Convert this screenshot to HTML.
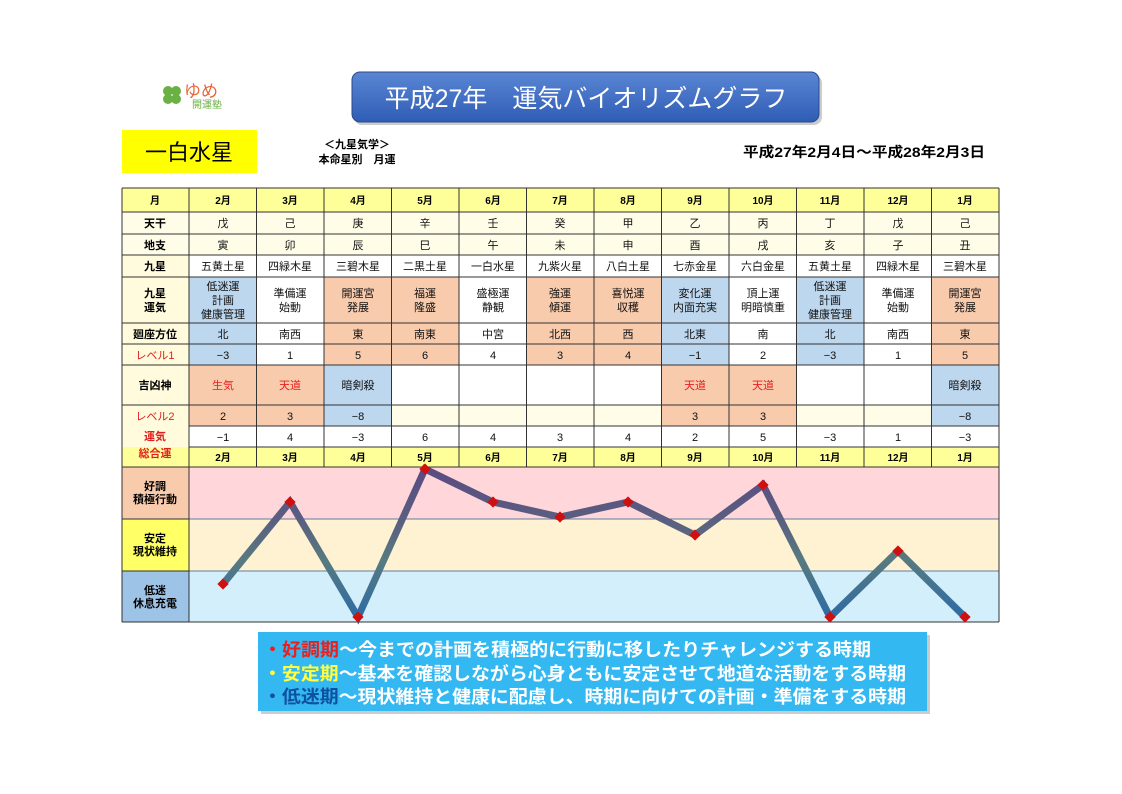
<!DOCTYPE html>
<html><head><meta charset="utf-8"><style>
html,body{margin:0;padding:0;background:#fff}
svg{display:block}
text{font-family:"Liberation Sans","Noto Sans CJK JP",sans-serif}
</style></head><body>
<svg width="1122" height="794" viewBox="0 0 1122 794" xmlns="http://www.w3.org/2000/svg">
<defs>
<linearGradient id="tg" x1="0" y1="0" x2="0" y2="1"><stop offset="0" stop-color="#5a86d4"/><stop offset="1" stop-color="#2f5db5"/></linearGradient>
<linearGradient id="lg" gradientUnits="userSpaceOnUse" x1="0" y1="467" x2="0" y2="622"><stop offset="0" stop-color="#5b4a82"/><stop offset="0.35" stop-color="#5a5f80"/><stop offset="0.6" stop-color="#577a80"/><stop offset="1" stop-color="#2a6aa8"/></linearGradient>
</defs>
<!-- logo -->
<g transform="translate(172,96)">
<circle cx="-4" cy="-5" r="5" fill="#6ab043"/><circle cx="4" cy="-5" r="5" fill="#6ab043"/><circle cx="-4" cy="3" r="5" fill="#6ab043"/><circle cx="4" cy="3" r="5" fill="#6ab043"/>
</g>
<text x="184" y="97" font-size="17" fill="#e8663a">ゆめ</text>
<text x="192" y="108" font-size="10" fill="#6ab043">開運塾</text>
<!-- title -->
<rect x="354" y="75" width="468" height="50" rx="8" fill="#999" opacity="0.5"/>
<rect x="352" y="72" width="467" height="50" rx="8" fill="url(#tg)" stroke="#2a4a8a" stroke-width="1"/>
<text x="586" y="107" font-size="25" fill="#fff" text-anchor="middle">平成27年　運気バイオリズムグラフ</text>
<!-- star box -->
<rect x="122" y="130" width="135" height="43" fill="#ffff00"/>
<text x="189" y="160" font-size="22" text-anchor="middle" fill="#000">一白水星</text>
<text x="357" y="148" font-size="11" font-weight="bold" text-anchor="middle">＜九星気学＞</text>
<text x="357" y="163" font-size="11" font-weight="bold" text-anchor="middle">本命星別　月運</text>
<text x="864" y="157" font-size="14" font-weight="bold" text-anchor="middle" textLength="242" lengthAdjust="spacingAndGlyphs">平成27年2月4日～平成28年2月3日</text>

<!-- table backgrounds -->
<rect x="122" y="188" width="877" height="24" fill="#ffff99"/>
<rect x="122" y="212" width="877" height="43" fill="#fffde8"/>
<rect x="122" y="255" width="877" height="192" fill="#fff"/>
<rect x="122" y="255" width="67" height="192" fill="#fffbdc"/>
<rect x="122" y="447" width="877" height="20" fill="#ffff99"/>
<g fill="#bdd7ee">
<rect x="189" y="277" width="67.5" height="88"/><rect x="661.5" y="277" width="67.5" height="88"/><rect x="796.5" y="277" width="67.5" height="88"/>
<rect x="324" y="365" width="67.5" height="61"/><rect x="931.5" y="365" width="67.5" height="61"/>
</g>
<g fill="#f8cbad">
<rect x="324" y="277" width="135" height="88"/><rect x="526.5" y="277" width="135" height="88"/><rect x="931.5" y="277" width="67.5" height="88"/>
<rect x="189" y="365" width="135" height="61"/><rect x="661.5" y="365" width="135" height="61"/>
</g>
<g fill="#fffde8">
<rect x="391.5" y="405" width="270" height="21"/><rect x="796.5" y="405" width="135" height="21"/>
</g>
<!-- chart -->
<rect x="122" y="467" width="67" height="52" fill="#f8cbad"/>
<rect x="122" y="519" width="67" height="52" fill="#ffff66"/>
<rect x="122" y="571" width="67" height="51" fill="#9dc3e6"/>
<rect x="189" y="467" width="810" height="52" fill="#ffd7da"/>
<rect x="189" y="519" width="810" height="52" fill="#fff2d2"/>
<rect x="189" y="571" width="810" height="51" fill="#d2effb"/>
<line x1="189" y1="519" x2="999" y2="519" stroke="#5d7d9d" stroke-width="1"/>
<line x1="189" y1="571" x2="999" y2="571" stroke="#5d7d9d" stroke-width="1"/>
<line x1="122" y1="519" x2="189" y2="519" stroke="#333" stroke-width="1"/>
<line x1="122" y1="571" x2="189" y2="571" stroke="#333" stroke-width="1"/>
<!-- grid -->
<g stroke="#333" stroke-width="1">
<line x1="122" y1="188" x2="999" y2="188"/><line x1="122" y1="212" x2="999" y2="212"/><line x1="122" y1="234" x2="999" y2="234"/><line x1="122" y1="255" x2="999" y2="255"/><line x1="122" y1="277" x2="999" y2="277"/><line x1="122" y1="323" x2="999" y2="323"/><line x1="122" y1="344" x2="999" y2="344"/><line x1="122" y1="365" x2="999" y2="365"/><line x1="122" y1="405" x2="999" y2="405"/><line x1="189" y1="426" x2="999" y2="426"/><line x1="189" y1="447" x2="999" y2="447"/><line x1="122" y1="467" x2="999" y2="467"/><line x1="122" y1="622" x2="999" y2="622"/>
<line x1="122" y1="188" x2="122" y2="622"/><line x1="189" y1="188" x2="189" y2="622"/><line x1="999" y1="188" x2="999" y2="622"/>
<line x1="256.5" y1="188" x2="256.5" y2="467"/><line x1="324" y1="188" x2="324" y2="467"/><line x1="391.5" y1="188" x2="391.5" y2="467"/><line x1="459" y1="188" x2="459" y2="467"/><line x1="526.5" y1="188" x2="526.5" y2="467"/><line x1="594" y1="188" x2="594" y2="467"/><line x1="661.5" y1="188" x2="661.5" y2="467"/><line x1="729" y1="188" x2="729" y2="467"/><line x1="796.5" y1="188" x2="796.5" y2="467"/><line x1="864" y1="188" x2="864" y2="467"/><line x1="931.5" y1="188" x2="931.5" y2="467"/>
</g>
<!-- label column -->
<g font-size="11" font-weight="bold" text-anchor="middle" fill="#000">
<text x="155" y="204" font-size="10">月</text>
<text x="155" y="227">天干</text>
<text x="155" y="249">地支</text>
<text x="155" y="270">九星</text>
<text x="155" y="297">九星</text><text x="155" y="311">運気</text>
<text x="155" y="338">廻座方位</text>
<text x="155" y="359" fill="#e02020" font-weight="normal">レベル1</text>
<text x="155" y="389">吉凶神</text>
<text x="155" y="420" fill="#e02020" font-weight="normal">レベル2</text>
<text x="155" y="440" fill="#e02020">運気</text><text x="155" y="457" fill="#e02020">総合運</text>
<text x="155" y="490">好調</text><text x="155" y="503">積極行動</text>
<text x="155" y="542">安定</text><text x="155" y="555">現状維持</text>
<text x="155" y="594">低迷</text><text x="155" y="607">休息充電</text>
</g>
<!-- month headers -->
<g font-size="10" font-weight="bold" text-anchor="middle">
<text x="223" y="204">2月</text><text x="290" y="204">3月</text><text x="358" y="204">4月</text><text x="425" y="204">5月</text><text x="493" y="204">6月</text><text x="560" y="204">7月</text><text x="628" y="204">8月</text><text x="695" y="204">9月</text><text x="763" y="204">10月</text><text x="830" y="204">11月</text><text x="898" y="204">12月</text><text x="965" y="204">1月</text>
<text x="223" y="461">2月</text><text x="290" y="461">3月</text><text x="358" y="461">4月</text><text x="425" y="461">5月</text><text x="493" y="461">6月</text><text x="560" y="461">7月</text><text x="628" y="461">8月</text><text x="695" y="461">9月</text><text x="763" y="461">10月</text><text x="830" y="461">11月</text><text x="898" y="461">12月</text><text x="965" y="461">1月</text>
</g>
<g font-size="11" text-anchor="middle" fill="#111">
<text x="223" y="227">戊</text><text x="290" y="227">己</text><text x="358" y="227">庚</text><text x="425" y="227">辛</text><text x="493" y="227">壬</text><text x="560" y="227">癸</text><text x="628" y="227">甲</text><text x="695" y="227">乙</text><text x="763" y="227">丙</text><text x="830" y="227">丁</text><text x="898" y="227">戊</text><text x="965" y="227">己</text>
<text x="223" y="249">寅</text><text x="290" y="249">卯</text><text x="358" y="249">辰</text><text x="425" y="249">巳</text><text x="493" y="249">午</text><text x="560" y="249">未</text><text x="628" y="249">申</text><text x="695" y="249">酉</text><text x="763" y="249">戌</text><text x="830" y="249">亥</text><text x="898" y="249">子</text><text x="965" y="249">丑</text>
<text x="223" y="270">五黄土星</text><text x="290" y="270">四緑木星</text><text x="358" y="270">三碧木星</text><text x="425" y="270">二黒土星</text><text x="493" y="270">一白水星</text><text x="560" y="270">九紫火星</text><text x="628" y="270">八白土星</text><text x="695" y="270">七赤金星</text><text x="763" y="270">六白金星</text><text x="830" y="270">五黄土星</text><text x="898" y="270">四緑木星</text><text x="965" y="270">三碧木星</text>
<text x="223" y="290">低迷運</text><text x="223" y="304">計画</text><text x="223" y="318">健康管理</text>
<text x="290" y="297">準備運</text><text x="290" y="311">始動</text>
<text x="358" y="297">開運宮</text><text x="358" y="311">発展</text>
<text x="425" y="297">福運</text><text x="425" y="311">隆盛</text>
<text x="493" y="297">盛極運</text><text x="493" y="311">静観</text>
<text x="560" y="297">強運</text><text x="560" y="311">傾運</text>
<text x="628" y="297">喜悦運</text><text x="628" y="311">収穫</text>
<text x="695" y="297">変化運</text><text x="695" y="311">内面充実</text>
<text x="763" y="297">頂上運</text><text x="763" y="311">明暗慎重</text>
<text x="830" y="290">低迷運</text><text x="830" y="304">計画</text><text x="830" y="318">健康管理</text>
<text x="898" y="297">準備運</text><text x="898" y="311">始動</text>
<text x="965" y="297">開運宮</text><text x="965" y="311">発展</text>
<text x="223" y="338">北</text><text x="290" y="338">南西</text><text x="358" y="338">東</text><text x="425" y="338">南東</text><text x="493" y="338">中宮</text><text x="560" y="338">北西</text><text x="628" y="338">西</text><text x="695" y="338">北東</text><text x="763" y="338">南</text><text x="830" y="338">北</text><text x="898" y="338">南西</text><text x="965" y="338">東</text>
<text x="223" y="359">−3</text><text x="290" y="359">1</text><text x="358" y="359">5</text><text x="425" y="359">6</text><text x="493" y="359">4</text><text x="560" y="359">3</text><text x="628" y="359">4</text><text x="695" y="359">−1</text><text x="763" y="359">2</text><text x="830" y="359">−3</text><text x="898" y="359">1</text><text x="965" y="359">5</text>
<text x="223" y="389" fill="#e82020">生気</text><text x="290" y="389" fill="#e82020">天道</text><text x="358" y="389">暗剣殺</text><text x="695" y="389" fill="#e82020">天道</text><text x="763" y="389" fill="#e82020">天道</text><text x="965" y="389">暗剣殺</text>
<text x="223" y="420">2</text><text x="290" y="420">3</text><text x="358" y="420">−8</text><text x="695" y="420">3</text><text x="763" y="420">3</text><text x="965" y="420">−8</text>
<text x="223" y="441">−1</text><text x="290" y="441">4</text><text x="358" y="441">−3</text><text x="425" y="441">6</text><text x="493" y="441">4</text><text x="560" y="441">3</text><text x="628" y="441">4</text><text x="695" y="441">2</text><text x="763" y="441">5</text><text x="830" y="441">−3</text><text x="898" y="441">1</text><text x="965" y="441">−3</text>
</g>
<!-- line -->
<polyline points="223,584 290,502 358,617 425,469 493,502 560,517 628,502 695,535 763,485 830,617 898,551 965,617" fill="none" stroke="url(#lg)" stroke-width="7" stroke-linejoin="miter"/>
<g fill="#d01010">
<rect x="219" y="580" width="8" height="8" transform="rotate(45 223 584)"/><rect x="286" y="498" width="8" height="8" transform="rotate(45 290 502)"/><rect x="354" y="613" width="8" height="8" transform="rotate(45 358 617)"/><rect x="421" y="465" width="8" height="8" transform="rotate(45 425 469)"/><rect x="489" y="498" width="8" height="8" transform="rotate(45 493 502)"/><rect x="556" y="513" width="8" height="8" transform="rotate(45 560 517)"/><rect x="624" y="498" width="8" height="8" transform="rotate(45 628 502)"/><rect x="691" y="531" width="8" height="8" transform="rotate(45 695 535)"/><rect x="759" y="481" width="8" height="8" transform="rotate(45 763 485)"/><rect x="826" y="613" width="8" height="8" transform="rotate(45 830 617)"/><rect x="894" y="547" width="8" height="8" transform="rotate(45 898 551)"/><rect x="961" y="613" width="8" height="8" transform="rotate(45 965 617)"/>
</g>
<!-- legend -->
<rect x="261" y="635" width="669" height="79" fill="#999" opacity="0.5"/>
<rect x="258" y="632" width="669" height="79" fill="#33b8f2"/>
<g font-size="18" font-weight="bold" fill="#fff">
<text x="263" y="656" textLength="608" lengthAdjust="spacingAndGlyphs"><tspan fill="#e82020">・好調期</tspan>～今までの計画を積極的に行動に移したりチャレンジする時期</text>
<text x="263" y="680" textLength="643" lengthAdjust="spacingAndGlyphs"><tspan fill="#ffff40">・安定期</tspan>～基本を確認しながら心身ともに安定させて地道な活動をする時期</text>
<text x="263" y="703" textLength="643" lengthAdjust="spacingAndGlyphs"><tspan fill="#1050a0">・低迷期</tspan>～現状維持と健康に配慮し、時期に向けての計画・準備をする時期</text>
</g>
</svg>
</body></html>
